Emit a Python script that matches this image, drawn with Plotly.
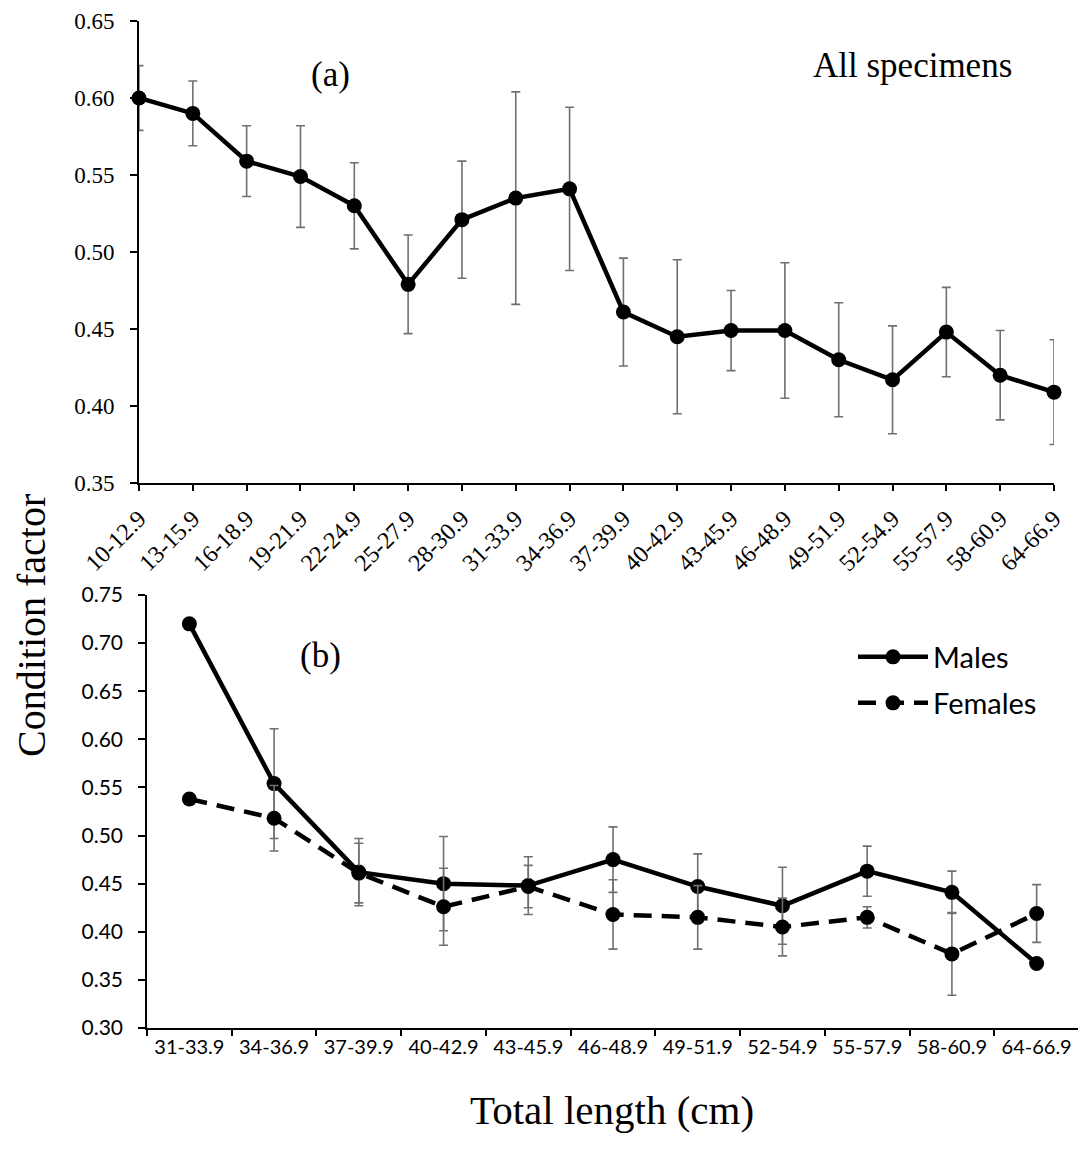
import plotly.graph_objects as go

# ---- data ----
cats_a = ["10-12.9", "13-15.9", "16-18.9", "19-21.9", "22-24.9", "25-27.9",
          "28-30.9", "31-33.9", "34-36.9", "37-39.9", "40-42.9", "43-45.9",
          "46-48.9", "49-51.9", "52-54.9", "55-57.9", "58-60.9", "64-66.9"]
all_mean = [0.600, 0.590, 0.559, 0.549, 0.530, 0.479, 0.521, 0.535, 0.541,
            0.461, 0.445, 0.449, 0.449, 0.430, 0.417, 0.448, 0.420, 0.409]
all_err = [0.021, 0.021, 0.023, 0.033, 0.028, 0.032, 0.038, 0.069, 0.053,
           0.035, 0.050, 0.026, 0.044, 0.037, 0.035, 0.029, 0.029, 0.034]

cats_b = ["31-33.9", "34-36.9", "37-39.9", "40-42.9", "43-45.9", "46-48.9",
          "49-51.9", "52-54.9", "55-57.9", "58-60.9", "64-66.9"]
males = [0.720, 0.554, 0.462, 0.450, 0.448, 0.475, 0.447, 0.427, 0.463, 0.441, 0.367]
males_err = [0, 0.057, 0.035, 0.049, 0.030, 0.034, 0.034, 0.040, 0.026, 0.022, 0]
females = [0.538, 0.518, 0.461, 0.426, 0.447, 0.418, 0.415, 0.405, 0.415, 0.377, 0.419]
females_err = [0, 0.034, 0.031, 0.040, 0.022, 0.036, 0.033, 0.030, 0.011, 0.043, 0.030]

OFF = 8  # page body margin
W, H = 1086 - OFF, 1160 - OFF
ERR_COLOR = "#707070"
SERIF = "Liberation Serif, Times New Roman, serif"
SANS = "Lato, Carlito, Calibri, sans-serif"

fig = go.Figure()

fig.add_trace(go.Scatter(
    x=cats_a, y=all_mean, mode="lines+markers", xaxis="x", yaxis="y",
    line=dict(color="black", width=4.5),
    marker=dict(color="black", size=15),
    error_y=dict(type="data", array=all_err, visible=True, color=ERR_COLOR,
                 thickness=1.6, width=4.5),
    cliponaxis=False, showlegend=False,
))

fig.add_trace(go.Scatter(
    x=cats_b, y=males, mode="lines+markers", xaxis="x2", yaxis="y2",
    name="Males", legend="legend",
    line=dict(color="black", width=4.5),
    marker=dict(color="black", size=15),
    error_y=dict(type="data", array=males_err, visible=True, color=ERR_COLOR,
                 thickness=1.6, width=4.5),
    cliponaxis=False,
))
fig.add_trace(go.Scatter(
    x=cats_b, y=females, mode="lines+markers", xaxis="x2", yaxis="y2",
    name="Females", legend="legend2",
    line=dict(color="black", width=4.5, dash="18px,10px"),
    marker=dict(color="black", size=15),
    error_y=dict(type="data", array=females_err, visible=True, color=ERR_COLOR,
                 thickness=1.6, width=4.5),
    cliponaxis=False,
))

def px_x(p):
    return (p - OFF) / W

def px_y(p):
    return 1 - (p - OFF) / H

def label(text, x, y, size, angle=0):
    return dict(text=text, x=px_x(x), y=px_y(y), xref="paper", yref="paper",
                xanchor="center", yanchor="middle", showarrow=False,
                textangle=angle, font=dict(family=SERIF, size=size, color="black"))

fig.update_layout(
    width=W, height=H,
    margin=dict(l=0, r=0, t=0, b=0, autoexpand=False),
    paper_bgcolor="white", plot_bgcolor="white",
    xaxis=dict(domain=[px_x(139), px_x(1054)], anchor="y", type="category",
               range=[0, 17], showline=True, linecolor="black", linewidth=2,
               ticks="outside", ticklen=6, tickwidth=2, tickcolor="black",
               tickangle=-45, showgrid=False, zeroline=False, automargin=False,
               ticklabelstandoff=4,
               tickfont=dict(family=SERIF, size=24, color="black")),
    yaxis=dict(domain=[px_y(483), px_y(21)], anchor="x",
               range=[0.35, 0.65], dtick=0.05, tickformat=".2f",
               showline=True, linecolor="black", linewidth=2,
               ticks="outside", ticklen=7, tickwidth=2, tickcolor="black",
               showgrid=False, zeroline=False, automargin=False,
               ticklabelstandoff=11,
               tickfont=dict(family=SERIF, size=23, color="black")),
    xaxis2=dict(domain=[px_x(147), px_x(1079)], anchor="y2", type="category",
                range=[-0.5, 10.5], tickson="boundaries",
                showline=True, linecolor="black", linewidth=1.5,
                ticks="outside", ticklen=6, tickwidth=1.5, tickcolor="black",
                showgrid=False, zeroline=False, automargin=False,
                tickfont=dict(family=SANS, size=20, color="black")),
    yaxis2=dict(domain=[px_y(1028), px_y(595)], anchor="x2",
                range=[0.30, 0.75], dtick=0.05, tickformat=".2f",
                showline=True, linecolor="black", linewidth=1.5,
                ticks="outside", ticklen=7, tickwidth=1.5, tickcolor="black",
                showgrid=False, zeroline=False, automargin=False,
                ticklabelstandoff=11,
                tickfont=dict(family=SANS, size=21, color="black")),
    legend=dict(x=px_x(853), y=px_y(657), xanchor="left", yanchor="middle",
                bgcolor="rgba(0,0,0,0)", itemwidth=70,
                font=dict(family=SANS, size=29, color="black")),
    legend2=dict(x=px_x(853), y=px_y(703), xanchor="left", yanchor="middle",
                 bgcolor="rgba(0,0,0,0)", itemwidth=70,
                 font=dict(family=SANS, size=29, color="black")),
    annotations=[
        label("(a)", 330, 75, 35),
        label("All specimens", 912, 66, 35),
        label("(b)", 320, 655, 35),
        label("Condition factor", 31, 626, 40, angle=-90),
        label("Total length (cm)", 612, 1110, 41),
    ],
)

fig.write_html("out.html")
